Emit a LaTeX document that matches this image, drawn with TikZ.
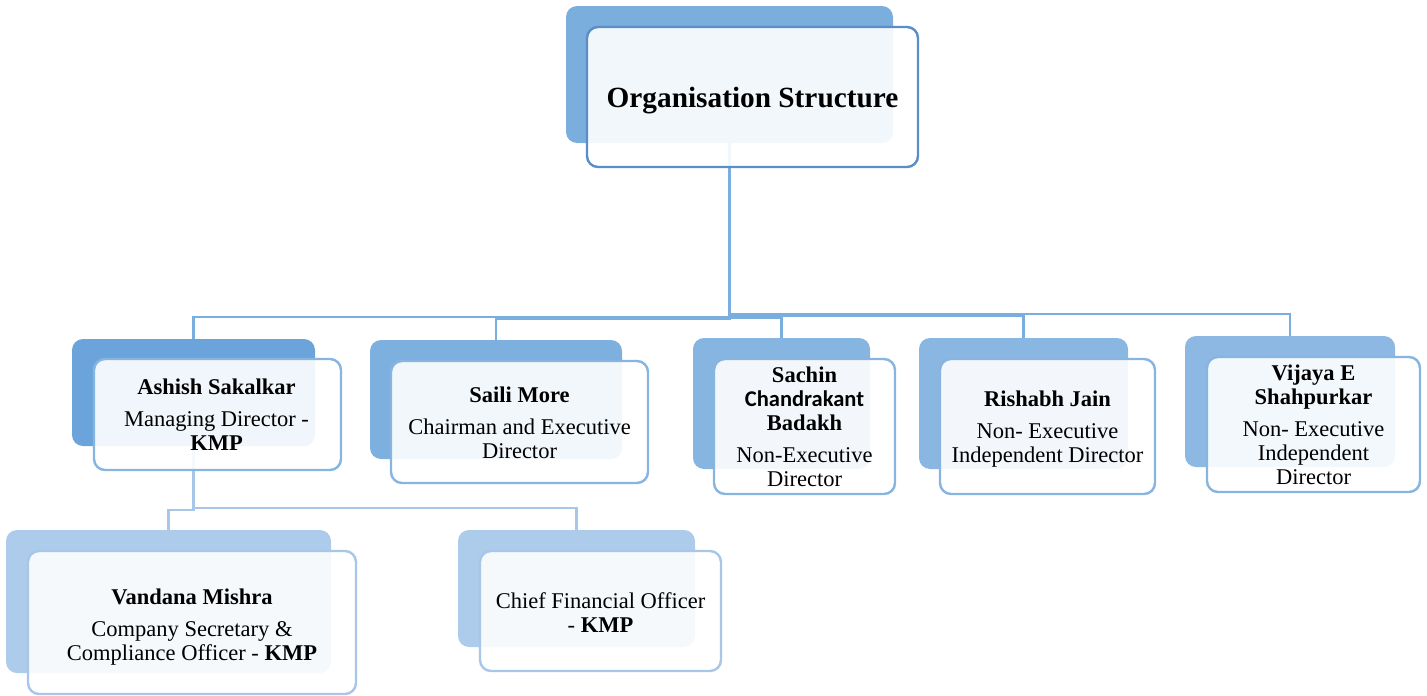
\documentclass[tikz,border=0pt]{standalone}
\usepackage{fontspec}
\setmainfont{Liberation Serif}
\newfontfamily\calib{Carlito}
\definecolor{topbk}{HTML}{7AAEDD}
\definecolor{topbd}{HTML}{5A8EC8}
\definecolor{ashbk}{HTML}{6AA4DA}
\definecolor{sailbk}{HTML}{7DB0DF}
\definecolor{sachbk}{HTML}{86B5E1}
\definecolor{rishbk}{HTML}{8AB7E2}
\definecolor{vijbk}{HTML}{8CB8E3}
\definecolor{lowbk}{HTML}{ADCBEA}
\definecolor{midbd}{HTML}{88B4E0}
\definecolor{lowbd}{HTML}{A8C7E8}
\definecolor{linec}{HTML}{7AAEDF}
\definecolor{sublinec}{HTML}{A8C7E8}
\begin{document}
\begin{tikzpicture}[x=1pt,y=-1pt,
  bk/.style={draw=none, rounded corners=11pt, inner sep=0pt, outer sep=0pt},
  fr/.style={rounded corners=11pt, fill=white, fill opacity=0.9,
    line width=2.4pt, inner sep=0pt, outer sep=0pt},
  txt/.style={inner sep=0pt, align=center, font=\fontsize{22.5}{24}\selectfont},
  conn/.style={draw=linec, line width=2.6pt},
  subconn/.style={draw=sublinec, line width=2.6pt}]
\useasboundingbox (0,0) rectangle (1427,696);
% back boxes
\node[bk, fill=topbk, minimum width=327pt, minimum height=137pt] (topB) at (729.5,74.5) {};
\node[bk, fill=ashbk, minimum width=243pt, minimum height=107pt] (ashB) at (193.5,392.5) {};
\node[bk, fill=sailbk, minimum width=252pt, minimum height=119pt] (saiB) at (496,399.5) {};
\node[bk, fill=sachbk, minimum width=177pt, minimum height=131pt] (sacB) at (781.5,403.5) {};
\node[bk, fill=rishbk, minimum width=209pt, minimum height=131pt] (risB) at (1023.5,403.5) {};
\node[bk, fill=vijbk, minimum width=210pt, minimum height=131pt] (vijB) at (1290,401.5) {};
\node[bk, fill=lowbk, minimum width=325pt, minimum height=143pt] (vanB) at (168.5,601.5) {};
\node[bk, fill=lowbk, minimum width=237pt, minimum height=117pt] (cfoB) at (576.5,588.5) {};
% connectors
\draw[conn] (topB.south) -- ++(0,174) -| (ashB.north);
\draw[conn] (topB.south) -- ++(0,176) -| (saiB.north);
\draw[conn] (topB.south) -- ++(0,175) -| (sacB.north);
\draw[conn] (topB.south) -- ++(0,173) -| (risB.north);
\draw[conn] (topB.south) -- ++(0,171) -| (vijB.north);
\draw[subconn] (ashB.south) -- ++(0,64) -| (vanB.north);
\draw[subconn] (ashB.south) -- ++(0,62) -| (cfoB.north);
% front boxes
\node[fr, draw=topbd, minimum width=331pt, minimum height=140pt] (topF) at (752.5,97) {};
\node[fr, draw=midbd, minimum width=247pt, minimum height=111pt] (ashF) at (217.5,414.5) {};
\node[fr, draw=midbd, minimum width=257pt, minimum height=122pt] (saiF) at (519.5,422) {};
\node[fr, draw=midbd, minimum width=181pt, minimum height=135pt] (sacF) at (804.5,426.5) {};
\node[fr, draw=midbd, minimum width=215pt, minimum height=135pt] (risF) at (1047.5,426.5) {};
\node[fr, draw=midbd, minimum width=213pt, minimum height=135pt] (vijF) at (1313.5,424.5) {};
\node[fr, draw=lowbd, minimum width=328pt, minimum height=143pt] (vanF) at (192,622.5) {};
\node[fr, draw=lowbd, minimum width=241pt, minimum height=120pt] (cfoF) at (600.5,611) {};
% texts
\node[txt, font=\fontsize{29.3}{30}\selectfont\bfseries] (topT) at ([yshift=-4pt]topF.center) {Organisation Structure};
\node[txt] (ashT) at ([xshift=-1pt]ashF.center)
  {\textbf{Ashish Sakalkar}\\[8pt]Managing Director -\\\textbf{KMP}};
\node[txt] (saiT) at ([yshift=-1pt]saiF.center)
  {\textbf{Saili More}\\[8pt]Chairman and Executive\\Director};
\node[txt] (sacT) at (sacF.center)
  {\textbf{Sachin}\\{\calib\bfseries Chandrakant}\\\textbf{Badakh}\\[8pt]Non-Executive\\Director};
\node[txt] (risT) at ([yshift=-3pt]risF.center)
  {\textbf{Rishabh Jain}\\[8pt]Non- Executive\\Independent Director};
\node[txt] (vijT) at (vijF.center)
  {\textbf{Vijaya E}\\\textbf{Shahpurkar}\\[8pt]Non- Executive\\Independent\\Director};
\node[txt] (vanT) at ([yshift=-5pt]vanF.center)
  {\textbf{Vandana Mishra}\\[8pt]Company Secretary \&\\Compliance Officer - \textbf{KMP}};
\node[txt] (cfoT) at ([yshift=-1.5pt]cfoF.center)
  {Chief Financial Officer\\- \textbf{KMP}};
\end{tikzpicture}
\end{document}
